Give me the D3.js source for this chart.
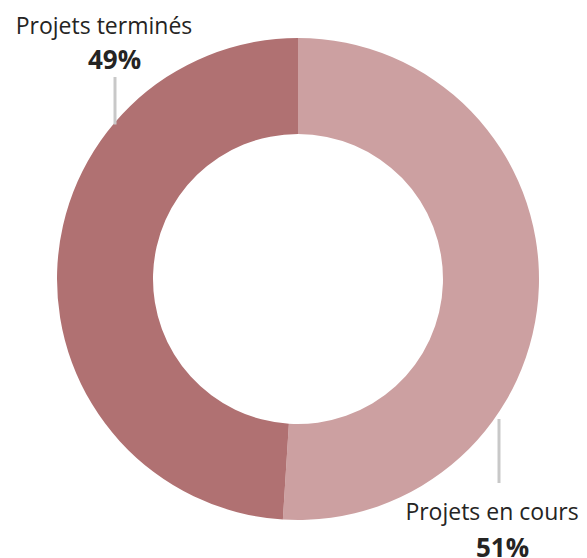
<!DOCTYPE html>
<html>
<head>
<meta charset="utf-8">
<script src="https://cdn.jsdelivr.net/npm/d3@7"></script>
<style>
  body { margin: 0; background: #fff; }
  svg text { font-family: "Segoe UI", "Open Sans", sans-serif; fill: #252423; }
</style>
</head>
<body>
<div id="chart"></div>
<script>
// chart data
const categories = ["Projets en cours", "Projets terminés"];
const values = [51, 49];
const percentLabels = ["51%", "49%"];
const colors = ["#cca0a1", "#b07172"];

const width = 587;
const height = 558;
const cx = 298, cy = 279;
const outerR = 241, innerR = 145;

const svg = d3.select("#chart")
  .append("svg")
  .attr("width", width)
  .attr("height", height);

const g = svg.append("g")
  .attr("transform", `translate(${cx}, ${cy})`);

// pie layout, no sorting so first slice starts at 12 o'clock
const pie = d3.pie().sort(null).value(d => d)(values);

const arc = d3.arc()
  .innerRadius(innerR)
  .outerRadius(outerR);

g.selectAll("path.slice")
  .data(pie)
  .join("path")
  .attr("class", "slice")
  .attr("d", arc)
  .attr("fill", (d, i) => colors[i]);

// leader lines: start point relative to centre, length, direction
const lineStart = [[201, 140], [-183, -154.5]];
const lineLen = [64, 47.5];
const lineDir = [1, -1]; // down for bottom label, up for top label
const nameDx = [-7, -11];
const pctDx = [3.5, -0.5];

categories.forEach((name, i) => {
  const x = cx + lineStart[i][0];
  const y0 = cy + lineStart[i][1];
  const y1 = y0 + lineDir[i] * lineLen[i];

  svg.append("line")
    .attr("x1", x).attr("x2", x)
    .attr("y1", y0).attr("y2", y1)
    .attr("stroke", "#c8c8c8")
    .attr("stroke-width", 3);

  let nameY, pctY;
  if (lineDir[i] > 0) {
    nameY = y1 + 37;
    pctY = nameY + 37;
  } else {
    pctY = y1 - 8;
    nameY = pctY - 35;
  }

  svg.append("text")
    .attr("x", x + nameDx[i])
    .attr("y", nameY)
    .attr("text-anchor", "middle")
    .style("font-size", "23px")
    .text(name);

  svg.append("text")
    .attr("x", x + pctDx[i])
    .attr("y", pctY)
    .attr("text-anchor", "middle")
    .style("font-size", "26px")
    .style("font-weight", "bold")
    .text(percentLabels[i]);
});
</script>
</body>
</html>
